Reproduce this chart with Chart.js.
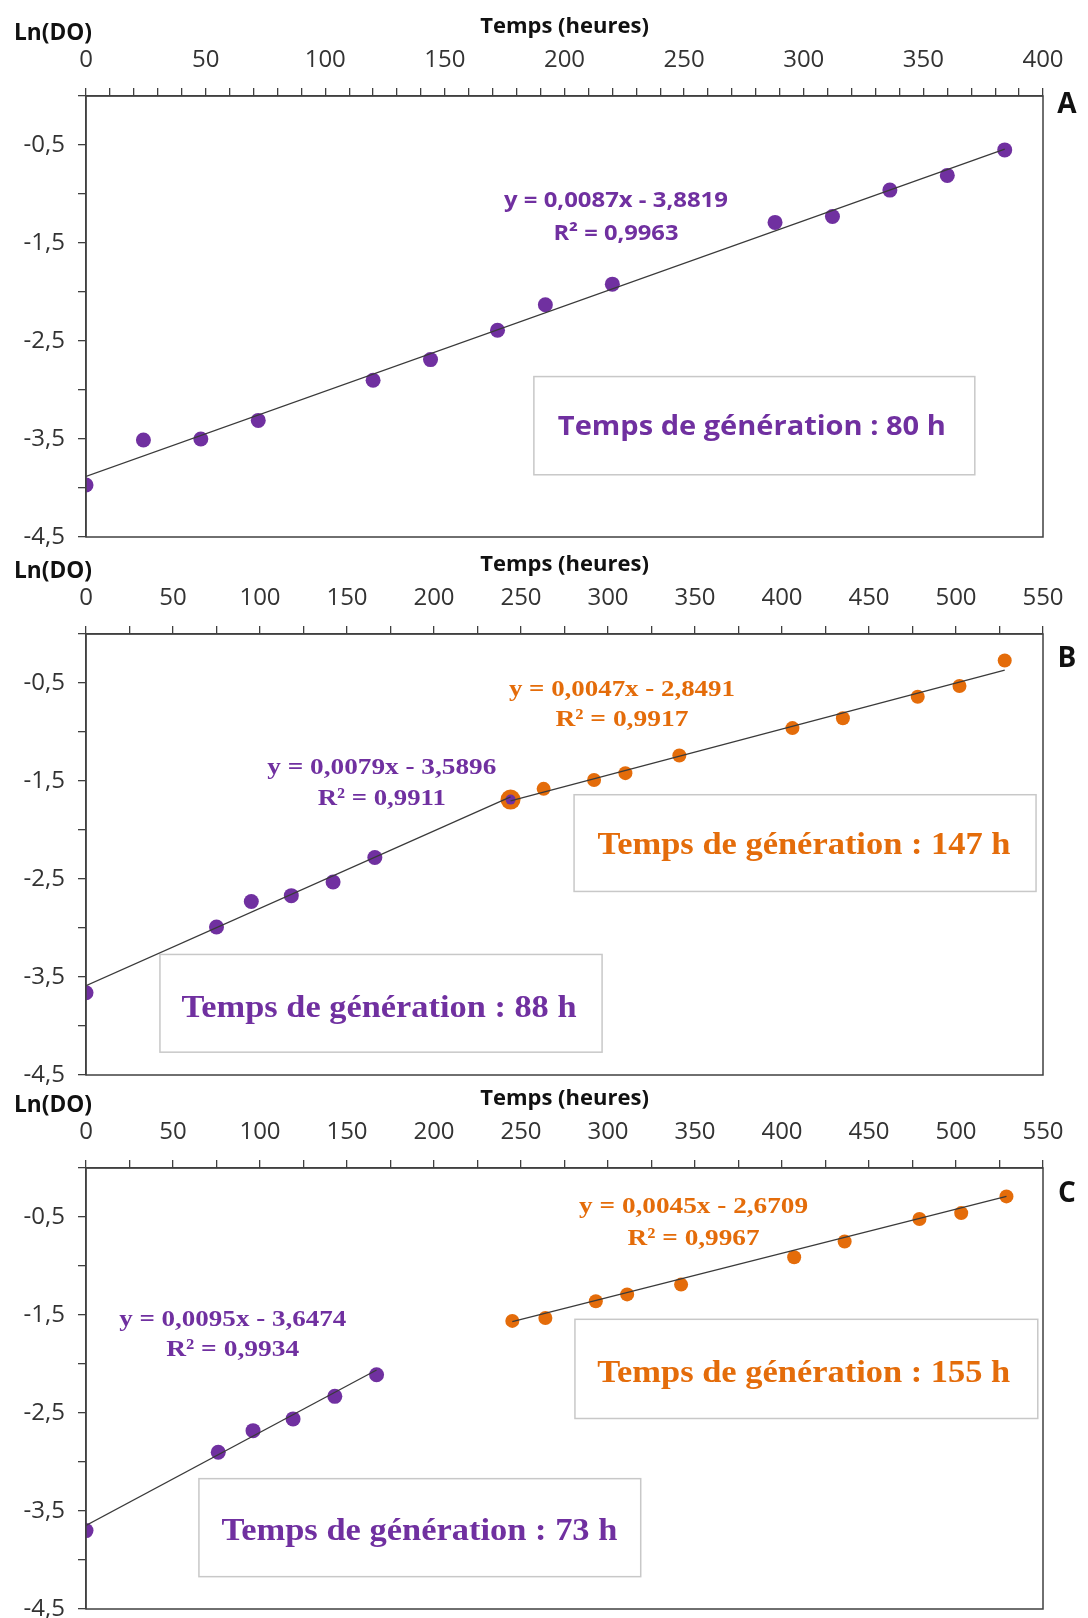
<!DOCTYPE html>
<html>
<head>
<meta charset="utf-8">
<script src="https://cdn.jsdelivr.net/npm/chart.js@4.4.1/dist/chart.umd.min.js"></script>
<style>
  body { margin: 0; background: #fff; width: 1088px; height: 1618px; position: relative; overflow: hidden; }
  .panel { position: absolute; left: 0; width: 1088px; height: 546px; }
</style>
</head>
<body>
<div class="panel" style="top:2px"><canvas id="chartA" width="1088" height="546"></canvas></div>
<div class="panel" style="top:540px"><canvas id="chartB" width="1088" height="546"></canvas></div>
<div class="panel" style="top:1074px"><canvas id="chartC" width="1088" height="546"></canvas></div>
<script>
// ---- data ----
// A
const timeA = [0, 24, 48, 72, 120, 144, 172, 192, 220, 288, 312, 336, 360, 384];
const lnA = [-3.97, -3.51, -3.50, -3.31, -2.90, -2.69, -2.39, -2.13, -1.92, -1.29, -1.23, -0.96, -0.81, -0.55];
const fitA = [0.0087, -3.8819];

// B
const timeB1 = [0, 75, 95, 118, 142, 166, 244];
const lnB1 = [-3.66, -2.99, -2.73, -2.67, -2.53, -2.28, -1.69];
const fitB1 = [0.0079, -3.5896];
const timeB2 = [244, 263, 292, 310, 341, 406, 435, 478, 502, 528];
const lnB2 = [-1.69, -1.58, -1.49, -1.42, -1.24, -0.96, -0.86, -0.64, -0.53, -0.27];
const fitB2 = [0.0047, -2.8491];

// C
const timeC1 = [0, 76, 96, 119, 143, 167];
const lnC1 = [-3.70, -2.90, -2.68, -2.56, -2.33, -2.11];
const fitC1 = [0.0095, -3.6474];
const timeC2 = [245, 264, 293, 311, 342, 407, 436, 479, 503, 529];
const lnC2 = [-1.56, -1.53, -1.36, -1.29, -1.19, -0.91, -0.75, -0.52, -0.46, -0.29];
const fitC2 = [0.0045, -2.6709];

const yTicks = [-4.5, -3.5, -2.5, -1.5, -0.5];

const PURPLE = "#7030A0";
const ORANGE = "#E46C0A";
const AXIS = "#404040";
const SANS = '"Open Sans", "Liberation Sans", sans-serif';
const SERIF = '"Liberation Serif", "Times New Roman", serif';

Chart.defaults.font.family = SANS;

function fmt(v) {
  return String(v).replace(".", ",");
}

// text centred on (x, cap middle of y), stretched to a given width
function drawText(ctx, item, x, y) {
  ctx.save();
  ctx.font = "bold " + item.size + "px " + item.family;
  ctx.fillStyle = item.color;
  ctx.textAlign = "center";
  ctx.textBaseline = "alphabetic";
  const w = ctx.measureText(item.text).width;
  const sx = item.width ? item.width / w : 1;
  ctx.translate(x, y + item.size * 0.34);
  ctx.scale(sx, 1);
  ctx.fillText(item.text, 0, 0);
  ctx.restore();
}

const panelDecor = {
  id: "panelDecor",
  beforeDatasetsDraw(chart, args, opts) {
    const { ctx } = chart;
    const xs = chart.scales.x, ys = chart.scales.y;
    (opts.boxes || []).forEach(b => {
      const x1 = xs.getPixelForValue(b.x1), x2 = xs.getPixelForValue(b.x2);
      const y1 = ys.getPixelForValue(b.y1), y2 = ys.getPixelForValue(b.y2);
      ctx.save();
      ctx.fillStyle = "#fff";
      ctx.fillRect(x1, y1, x2 - x1, y2 - y1);
      ctx.strokeStyle = "#c8c8c8";
      ctx.lineWidth = 1.5;
      ctx.strokeRect(x1, y1, x2 - x1, y2 - y1);
      ctx.restore();
    });
  },
  afterDraw(chart, args, opts) {
    const { ctx, chartArea } = chart;
    const xs = chart.scales.x, ys = chart.scales.y;
    // plot frame
    ctx.save();
    ctx.strokeStyle = AXIS;
    ctx.lineWidth = 1.5;
    ctx.strokeRect(chartArea.left, chartArea.top, chartArea.right - chartArea.left, chartArea.bottom - chartArea.top);
    ctx.restore();

    (opts.texts || []).forEach(t => {
      drawText(ctx, t, xs.getPixelForValue(t.x), ys.getPixelForValue(t.y));
    });

    drawText(ctx, { text: "Ln(DO)", size: 23, family: SANS, color: "#111", width: 78 }, 53, chartArea.top - 64);
    drawText(ctx, { text: opts.letter, size: 28, family: SANS, color: "#111" }, chartArea.right + 24, chartArea.top + opts.letterDy);
  }
};

function series(times, values, color, order, radius) {
  return {
    data: times.map((t, i) => ({ x: t, y: values[i] })),
    backgroundColor: color,
    borderColor: color,
    borderWidth: 0,
    pointRadius: radius,
    pointHoverRadius: radius,
    order: order
  };
}

function trend(times, fit) {
  const x0 = Math.min(...times), x1 = Math.max(...times);
  return {
    data: [{ x: x0, y: fit[0] * x0 + fit[1] }, { x: x1, y: fit[0] * x1 + fit[1] }],
    showLine: true,
    borderColor: "#3a3a3a",
    borderWidth: 1.3,
    pointRadius: 0,
    order: 0
  };
}

function makePanel(id, xMax, xStep, datasets, decor) {
  new Chart(document.getElementById(id), {
    type: "scatter",
    data: { datasets: datasets },
    options: {
      responsive: false,
      animation: false,
      events: [],
      layout: { padding: { left: 0, top: 0, right: 45, bottom: 11 } },
      plugins: {
        legend: { display: false },
        tooltip: { enabled: false },
        panelDecor: decor
      },
      scales: {
        x: {
          type: "linear",
          position: "top",
          min: 0,
          max: xMax,
          afterFit: s => {
            s.height = 94;
            s.paddingLeft = 0;
            s.paddingRight = 0;
          },
          title: {
            display: true,
            text: "Temps (heures)",
            color: "#111",
            font: { size: 22, weight: "bold" },
            padding: { top: 12, bottom: 0 }
          },
          ticks: {
            stepSize: xStep,
            autoSkip: false,
            maxRotation: 0,
            padding: 13,
            color: "#333",
            font: { size: 24 },
            callback: v => (v % 50 === 0 ? String(v) : "")
          },
          grid: { drawOnChartArea: false, drawTicks: true, tickLength: 8, color: AXIS, lineWidth: 1.3 },
          border: { display: true, color: AXIS, width: 1.5 }
        },
        y: {
          type: "linear",
          position: "left",
          min: -4.5,
          max: 0,
          afterFit: s => {
            s.width = 86;
            s.paddingTop = 0;
            s.paddingBottom = 0;
          },
          ticks: {
            stepSize: 0.5,
            autoSkip: false,
            padding: 13,
            color: "#333",
            font: { size: 24 },
            callback: v => (yTicks.includes(v) ? fmt(v) : "")
          },
          grid: { drawOnChartArea: false, drawTicks: true, tickLength: 8, color: AXIS, lineWidth: 1.3 },
          border: { display: true, color: AXIS, width: 1.5 }
        }
      }
    },
    plugins: [panelDecor]
  });
}

// ---- panel A ----
makePanel("chartA", 400, 10, [
  trend(timeA, fitA),
  series(timeA, lnA, PURPLE, 1, 7.5)
], {
  letter: "A", letterDy: 7,
  boxes: [{ x1: 187.2, x2: 371.5, y1: -2.863, y2: -3.865 }],
  texts: [
    { text: "y = 0,0087x - 3,8819", x: 221.5, y: -1.063, size: 21, family: SANS, color: PURPLE, width: 224 },
    { text: "R² = 0,9963", x: 221.5, y: -1.40, size: 21, family: SANS, color: PURPLE, width: 125 },
    { text: "Temps de génération : 80 h", x: 278.3, y: -3.364, size: 26, family: SANS, color: PURPLE, width: 388 }
  ]
});

// ---- panel B ----
makePanel("chartB", 550, 25, [
  trend(timeB1, fitB1),
  trend(timeB2, fitB2),
  series(timeB1, lnB1, PURPLE, 1, c => (c.dataIndex === timeB1.length - 1 ? 5 : 7.5)),
  series(timeB2, lnB2, ORANGE, 2, c => (c.dataIndex === 0 ? 10 : 7))
], {
  letter: "B", letterDy: 23,
  boxes: [
    { x1: 280.5, x2: 546, y1: -1.64, y2: -2.627 },
    { x1: 42.5, x2: 296.6, y1: -3.27, y2: -4.267 }
  ],
  texts: [
    { text: "y = 0,0047x - 2,8491", x: 308, y: -0.55, size: 24, family: SERIF, color: ORANGE, width: 226 },
    { text: "R² = 0,9917", x: 308, y: -0.855, size: 24, family: SERIF, color: ORANGE, width: 133 },
    { text: "y = 0,0079x - 3,5896", x: 170, y: -1.344, size: 24, family: SERIF, color: PURPLE, width: 229 },
    { text: "R² = 0,9911", x: 170, y: -1.66, size: 24, family: SERIF, color: PURPLE, width: 128 },
    { text: "Temps de génération : 147 h", x: 412.6, y: -2.14, size: 31, family: SERIF, color: ORANGE, width: 413 },
    { text: "Temps de génération : 88 h", x: 168.4, y: -3.80, size: 31, family: SERIF, color: PURPLE, width: 395 }
  ]
});

// ---- panel C ----
makePanel("chartC", 550, 25, [
  trend(timeC1, fitC1),
  trend(timeC2, fitC2),
  series(timeC1, lnC1, PURPLE, 1, 7.5),
  series(timeC2, lnC2, ORANGE, 2, 7)
], {
  letter: "C", letterDy: 24,
  boxes: [
    { x1: 281, x2: 547, y1: -1.544, y2: -2.556 },
    { x1: 64.9, x2: 318.8, y1: -3.17, y2: -4.17 }
  ],
  texts: [
    { text: "y = 0,0045x - 2,6709", x: 349.2, y: -0.378, size: 24, family: SERIF, color: ORANGE, width: 229 },
    { text: "R² = 0,9967", x: 349.2, y: -0.705, size: 24, family: SERIF, color: ORANGE, width: 132 },
    { text: "y = 0,0095x - 3,6474", x: 84.3, y: -1.524, size: 24, family: SERIF, color: PURPLE, width: 227 },
    { text: "R² = 0,9934", x: 84.3, y: -1.83, size: 24, family: SERIF, color: PURPLE, width: 133 },
    { text: "Temps de génération : 155 h", x: 412.5, y: -2.076, size: 31, family: SERIF, color: ORANGE, width: 413 },
    { text: "Temps de génération : 73 h", x: 191.6, y: -3.69, size: 31, family: SERIF, color: PURPLE, width: 396 }
  ]
});
</script>
</body>
</html>
